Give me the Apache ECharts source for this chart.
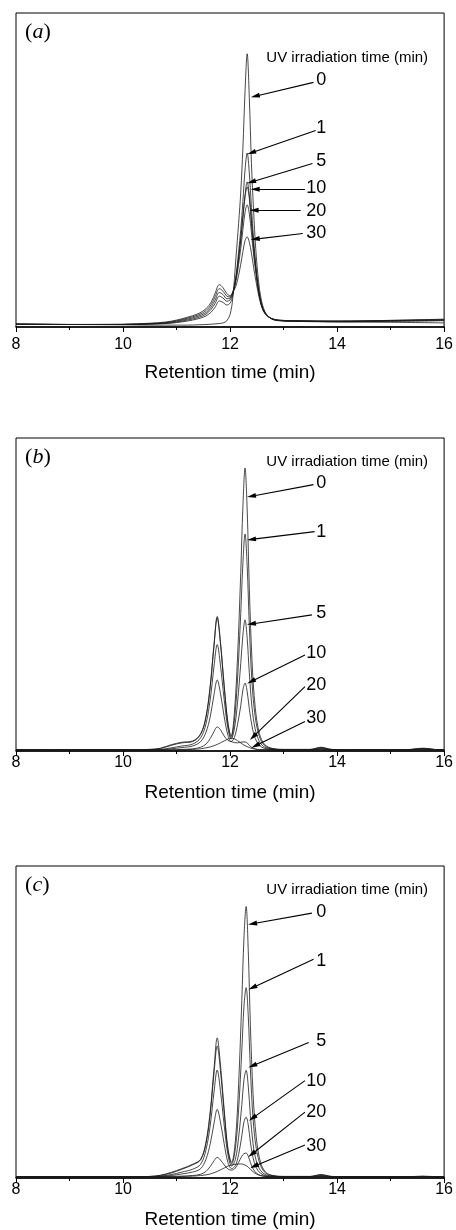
<!DOCTYPE html>
<html>
<head>
<meta charset="utf-8">
<script src="https://cdn.jsdelivr.net/npm/echarts@6/dist/echarts.min.js"></script>
<style>
  html, body { margin: 0; padding: 0; background: #fff; }
  #chart { width: 456px; height: 1230px; }
</style>
</head>
<body>
<div id="chart"></div>
<script>
// irradiation times (min), one curve each
const irradiation = ['0', '1', '5', '10', '20', '30']

// panel (a)
const timeA = [8, 9, 10, 10.5, 10.8, 11.0, 11.2, 11.4, 11.55, 11.65, 11.72, 11.8, 11.87, 11.94, 12.0, 12.05, 12.11, 12.16, 12.2, 12.24, 12.28, 12.32, 12.36, 12.4, 12.44, 12.48, 12.53, 12.58, 12.65, 12.75, 12.9, 13.2, 14, 15, 16]
const curvesA = [
  [0.9, 0.8, 0.7, 0.6, 0.6, 0.6, 0.6, 0.7, 0.8, 0.9, 1.0, 1.1, 1.3, 2.0, 4.0, 9, 22, 33, 43, 57, 75, 87, 73, 52, 37, 25, 15, 9, 5, 2.8, 2.0, 1.8, 1.6, 1.5, 1.3],
  [0.9, 0.8, 0.8, 0.9, 1.1, 1.4, 1.9, 2.6, 3.5, 4.8, 6.3, 8.3, 7.8, 7.0, 7.6, 10, 16, 24, 31, 40, 50, 55.4, 49, 38, 28, 20, 12.5, 7.8, 4.6, 2.9, 2.1, 1.9, 1.7, 1.8, 2.0],
  [0.9, 0.8, 0.8, 1.0, 1.2, 1.6, 2.2, 3.0, 4.1, 5.7, 7.5, 9.8, 9.2, 8.2, 8.6, 10.5, 15.5, 22, 28, 35, 42, 46.2, 42, 34, 26, 19, 12, 7.6, 4.5, 2.9, 2.1, 1.9, 1.7, 1.9, 2.1],
  [0.9, 0.8, 0.8, 1.0, 1.3, 1.8, 2.5, 3.4, 4.6, 6.4, 8.5, 11, 10.3, 9.0, 9.2, 11, 15.5, 22, 28, 35, 41.5, 44.6, 41, 33, 25, 18.5, 12, 7.5, 4.5, 2.9, 2.1, 1.9, 1.8, 2.0, 2.3],
  [0.9, 0.8, 0.8, 1.1, 1.4, 2.0, 2.8, 3.8, 5.2, 7.2, 9.6, 12.2, 11.4, 9.8, 9.6, 11, 14.5, 20, 25, 31, 36.5, 38.9, 36, 30, 23, 17.5, 11.5, 7.3, 4.4, 2.9, 2.2, 2.0, 1.9, 2.1, 2.4],
  [0.9, 0.8, 0.9, 1.2, 1.6, 2.2, 3.1, 4.2, 5.8, 8.0, 10.7, 13.5, 12.5, 10.6, 10.0, 11, 13, 16.5, 20, 24, 27.5, 28.7, 27, 23.5, 19, 15, 10.5, 7, 4.3, 2.9, 2.2, 2.0, 1.9, 2.1, 2.5]
]

// panel (b)
const timeB = [8, 9, 10, 10.5, 10.7, 10.9, 11.1, 11.3, 11.45, 11.55, 11.63, 11.7, 11.76, 11.82, 11.89, 11.96, 12.02, 12.08, 12.14, 12.2, 12.24, 12.28, 12.32, 12.36, 12.41, 12.47, 12.55, 12.65, 12.8, 13.0, 13.5, 13.7, 13.9, 14.5, 15.3, 15.6, 15.9, 16]
const curvesB = [
  [0.4, 0.4, 0.4, 0.5, 0.9, 2.0, 2.8, 3.2, 5.5, 11, 21, 34, 43, 35, 21, 9, 4.8, 12, 30, 57, 78, 90.4, 77, 52, 29, 14, 5.5, 2.0, 0.8, 0.5, 0.5, 1.2, 0.5, 0.4, 0.4, 0.9, 0.4, 0.4],
  [0.4, 0.4, 0.4, 0.5, 0.8, 1.8, 2.6, 3.0, 5.3, 10.7, 20.5, 33.5, 42.5, 34.5, 20.5, 8.8, 4.3, 9.5, 23, 44, 60, 69.3, 59, 40, 22, 11, 4.5, 1.7, 0.7, 0.5, 0.5, 1.1, 0.5, 0.4, 0.4, 0.8, 0.4, 0.4],
  [0.4, 0.4, 0.4, 0.4, 0.5, 1.0, 1.6, 2.2, 4.2, 8.7, 16.5, 27, 34, 27.5, 16.5, 7.2, 3.8, 7, 15.5, 28, 37, 41.9, 36, 25, 14, 7, 3, 1.2, 0.6, 0.4, 0.4, 0.9, 0.4, 0.4, 0.4, 0.7, 0.4, 0.4],
  [0.4, 0.4, 0.4, 0.4, 0.4, 0.7, 1.1, 1.6, 3.0, 6, 11, 18, 22.7, 18.5, 11, 5, 3.0, 4.3, 8.5, 14.5, 19.5, 21.7, 19, 13.5, 8, 4, 1.8, 0.8, 0.5, 0.4, 0.4, 0.7, 0.4, 0.4, 0.4, 0.6, 0.4, 0.4],
  [0.4, 0.4, 0.4, 0.3, 0.3, 0.4, 0.5, 0.7, 1.2, 2.2, 4, 6.2, 7.7, 6.8, 4.8, 3.4, 3.0, 2.7, 2.6, 2.8, 2.9, 2.9, 2.6, 1.8, 1.1, 0.7, 0.4, 0.4, 0.4, 0.4, 0.4, 0.6, 0.4, 0.4, 0.4, 0.5, 0.4, 0.4],
  [0.4, 0.4, 0.4, 0.3, 0.3, 0.3, 0.4, 0.5, 0.7, 1.0, 1.3, 1.7, 2.1, 2.6, 3.2, 3.8, 4.1, 3.9, 3.3, 2.6, 2.1, 1.7, 1.4, 1.1, 0.8, 0.6, 0.4, 0.4, 0.4, 0.4, 0.4, 0.5, 0.4, 0.4, 0.4, 0.4, 0.4, 0.4]
]

// panel (c)
const timeC = [8, 9, 9.6, 10, 10.5, 10.7, 10.9, 11.1, 11.3, 11.45, 11.55, 11.63, 11.7, 11.76, 11.82, 11.89, 11.96, 12.03, 12.1, 12.16, 12.22, 12.26, 12.3, 12.34, 12.38, 12.43, 12.49, 12.57, 12.67, 12.8, 13.0, 13.5, 13.7, 13.9, 14.5, 15.3, 15.6, 15.9, 16]
const curvesC = [
  [0.4, 0.4, 0.4, 0.4, 0.5, 0.9, 1.8, 3.0, 4.4, 6.0, 11.5, 21.5, 35, 44.9, 36.5, 22, 9.5, 5.0, 12, 30, 57, 77, 87, 73, 49, 27, 13, 5, 1.8, 0.8, 0.5, 0.5, 1.1, 0.5, 0.4, 0.4, 0.6, 0.4, 0.4],
  [0.4, 0.4, 0.4, 0.4, 0.5, 0.8, 1.6, 2.8, 4.2, 5.8, 11, 20.5, 33.5, 42.3, 34.5, 21, 9, 4.5, 9.5, 22, 41, 55, 61, 52, 35, 19, 9.5, 4, 1.5, 0.7, 0.5, 0.5, 1.0, 0.5, 0.4, 0.4, 0.5, 0.4, 0.4],
  [0.4, 0.4, 0.4, 0.4, 0.4, 0.6, 1.1, 1.9, 2.8, 4.4, 9, 17, 27.5, 34.6, 28, 17, 7.5, 3.8, 6, 13, 23.5, 31.5, 34.5, 29.5, 20, 11, 5.5, 2.4, 1.0, 0.6, 0.4, 0.4, 0.8, 0.4, 0.4, 0.4, 0.5, 0.4, 0.4],
  [0.4, 0.4, 0.4, 0.4, 0.4, 0.5, 0.8, 1.3, 1.9, 3.0, 6, 11, 17.5, 22, 18, 11, 5, 3.0, 4.0, 7.5, 13.5, 18, 19.5, 17, 11.5, 6.5, 3.3, 1.5, 0.7, 0.5, 0.4, 0.4, 0.7, 0.4, 0.4, 0.4, 0.4, 0.4, 0.4],
  [0.4, 0.4, 0.4, 0.4, 0.4, 0.4, 0.5, 0.6, 0.8, 1.2, 2.1, 3.7, 5.5, 6.6, 5.8, 4.2, 2.9, 2.5, 3.2, 5, 7, 7.8, 8, 7, 5, 3, 1.6, 0.8, 0.5, 0.4, 0.4, 0.4, 0.5, 0.4, 0.4, 0.4, 0.4, 0.4, 0.4],
  [0.4, 0.4, 0.4, 0.4, 0.4, 0.4, 0.4, 0.5, 0.6, 0.8, 1.0, 1.3, 1.7, 2.1, 2.6, 3.2, 3.8, 4.2, 4.4, 4.5, 4.5, 4.3, 4.0, 3.5, 2.8, 2.0, 1.3, 0.8, 0.5, 0.4, 0.4, 0.4, 0.5, 0.4, 0.4, 0.4, 0.4, 0.4, 0.4]
]

const xTicks = [8, 10, 12, 14, 16]

// annotation arrows in data units: [from t, from v, to t, to v]
const arrowsA = [[13.56, 77.9, 12.47, 73.5], [13.60, 62.6, 12.40, 55.5], [13.54, 52.1, 12.40, 46.2], [13.40, 43.9, 12.47, 43.9], [13.32, 37.2, 12.45, 37.2], [13.36, 29.8, 12.47, 28.0]]
const arrowsB = [[13.56, 85.1, 12.40, 81.4], [13.58, 70.1, 12.40, 67.6], [13.53, 43.5, 12.40, 40.6], [13.40, 30.7, 12.395, 22.2], [13.40, 20.6, 12.43, 4.5], [13.40, 9.4, 12.475, 1.7]]
const arrowsC = [[13.53, 84.9, 12.42, 81.5], [13.56, 70.1, 12.42, 61.0], [13.47, 43.4, 12.42, 36.0], [13.40, 31.2, 12.42, 19.2], [13.40, 21.1, 12.405, 7.6], [13.40, 10.6, 12.45, 3.8]]
// height of each number label
const labelYA = [78.6, 63.3, 52.8, 44.2, 36.9, 29.8]
const labelYB = [85.7, 69.9, 44.0, 31.2, 21.1, 10.5]
const labelYC = [85.2, 69.7, 43.9, 31.2, 21.1, 10.4]

const FONT = '"Liberation Sans", Arial, sans-serif'
const SERIF = '"Liberation Serif", "Times New Roman", serif'

const panels = [
  { letter: 'a', times: timeA, curves: curvesA, arrows: arrowsA, labelY: labelYA, titleY: 85.6, top: 13, height: 314, margin: 10, nameGap: 36 },
  { letter: 'b', times: timeB, curves: curvesB, arrows: arrowsB, labelY: labelYB, titleY: 92.5, top: 438, height: 313, margin: 4, nameGap: 32 },
  { letter: 'c', times: timeC, curves: curvesC, arrows: arrowsC, labelY: labelYC, titleY: 92.3, top: 866, height: 313, margin: 4, nameGap: 32 }
]

const grids = []
const xAxes = []
const yAxes = []
const series = []

panels.forEach((p, i) => {
  grids.push({ left: 16, right: 10, top: p.top, height: p.height, show: true, borderColor: '#000', borderWidth: 1, backgroundColor: 'transparent' })
  xAxes.push({
    gridIndex: i,
    type: 'value',
    min: xTicks[0],
    max: xTicks[xTicks.length - 1],
    interval: 2,
    name: 'Retention time (min)',
    nameLocation: 'middle',
    nameGap: p.nameGap,
    nameTextStyle: { fontFamily: FONT, fontSize: 19, color: '#000' },
    axisLine: { show: true, onZero: false, lineStyle: { color: '#000', width: 1.5 } },
    axisTick: { show: true, length: 5, lineStyle: { color: '#000', width: 1 } },
    minorTick: { show: true, splitNumber: 2, length: 3, lineStyle: { color: '#000', width: 1 } },
    axisLabel: { fontFamily: FONT, fontSize: 16, color: '#000', margin: p.margin },
    splitLine: { show: false }
  })
  yAxes.push({ gridIndex: i, type: 'value', min: 0, max: 100, show: false, splitLine: { show: false } })

  p.curves.forEach((vals, j) => {
    const a = p.arrows[j]
    const points = [{
      coord: [13.8, p.labelY[j]],
      label: { formatter: irradiation[j], position: 'left', distance: 0, fontSize: 18 }
    }]
    if (j === 0) {
      points.push({
        coord: [15.7, p.titleY],
        label: { formatter: 'UV irradiation time (min)', position: 'left', distance: 0, fontSize: 15 }
      })
      points.push({
        coord: [8.17, 93.8],
        label: {
          formatter: '{p|(}{i|' + p.letter + '}{p|)}',
          position: 'right',
          distance: 0,
          rich: {
            p: { fontFamily: SERIF, fontSize: 22, color: '#000' },
            i: { fontFamily: SERIF, fontSize: 22, fontStyle: 'italic', color: '#000' }
          }
        }
      })
    }
    series.push({
      type: 'line',
      name: irradiation[j] + ' min',
      xAxisIndex: i,
      yAxisIndex: i,
      data: p.times.map((t, k) => [t, vals[k]]),
      smooth: 0.35,
      symbol: 'none',
      silent: true,
      itemStyle: { color: '#000' },
      lineStyle: { color: '#1a1a1a', width: 0.8 },
      markLine: {
        silent: true,
        symbol: ['none', 'triangle'],
        symbolSize: [5, 9],
        itemStyle: { color: '#000' },
        lineStyle: { color: '#000', width: 1.1, type: 'solid' },
        label: { show: false },
        emphasis: { disabled: true },
        data: [[{ coord: [a[0], a[1]] }, { coord: [a[2], a[3]] }]]
      },
      markPoint: {
        silent: true,
        symbol: 'circle',
        symbolSize: 0,
        itemStyle: { color: 'transparent' },
        label: { show: true, color: '#000', fontFamily: FONT },
        data: points
      }
    })
  })
})

const chart = echarts.init(document.getElementById('chart'))
chart.setOption({
  animation: false,
  backgroundColor: '#fff',
  grid: grids,
  xAxis: xAxes,
  yAxis: yAxes,
  series: series
})
</script>
</body>
</html>
